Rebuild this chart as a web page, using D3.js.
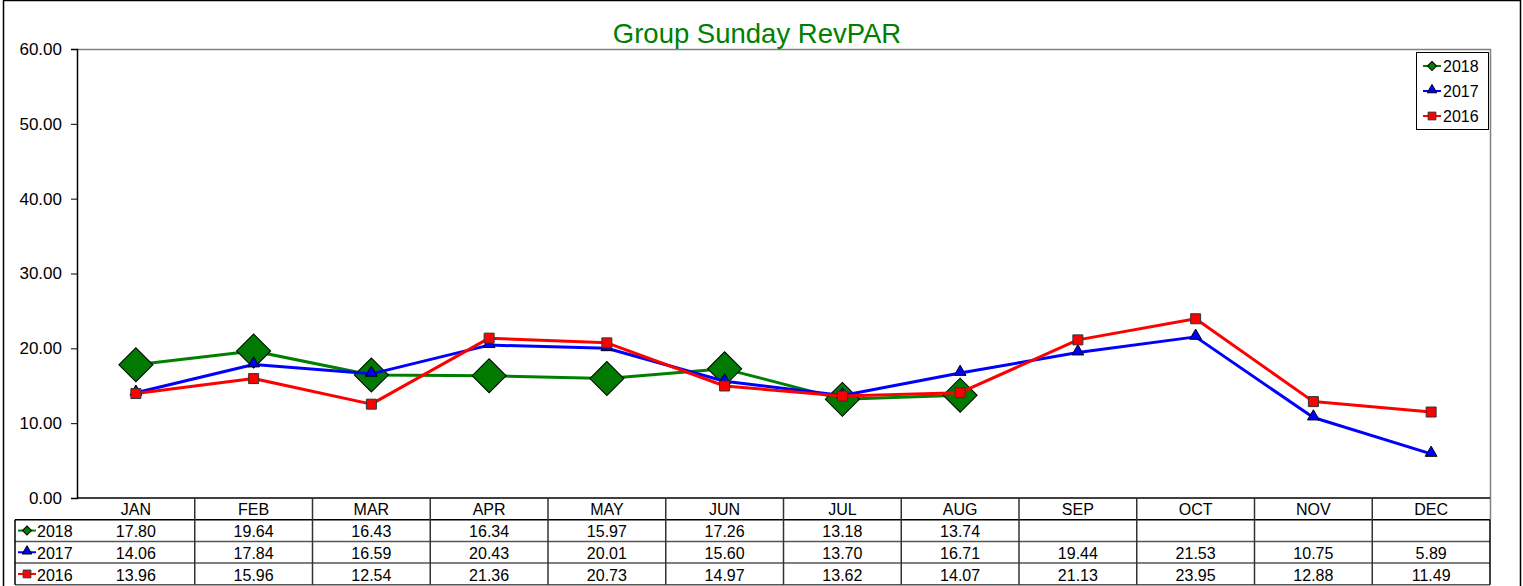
<!DOCTYPE html>
<html>
<head>
<meta charset="utf-8">
<script src="https://cdn.jsdelivr.net/npm/d3@7"></script>
<style>
  html, body { margin: 0; padding: 0; background: #fff; }
  svg { display: block; font-family: "Liberation Sans", Arial, sans-serif; }
</style>
</head>
<body>
<svg id="chart" width="1523" height="586"></svg>
<script>
// Monthly Group Sunday RevPAR by year
const months = ["JAN","FEB","MAR","APR","MAY","JUN","JUL","AUG","SEP","OCT","NOV","DEC"];
const values2018 = [17.80, 19.64, 16.43, 16.34, 15.97, 17.26, 13.18, 13.74, null, null, null, null];
const values2017 = [14.06, 17.84, 16.59, 20.43, 20.01, 15.60, 13.70, 16.71, 19.44, 21.53, 10.75, 5.89];
const values2016 = [13.96, 15.96, 12.54, 21.36, 20.73, 14.97, 13.62, 14.07, 21.13, 23.95, 12.88, 11.49];
const yTicks = [0, 10, 20, 30, 40, 50, 60];

const series = [
  { name: "2018", values: values2018, color: "#008000", fill: "#007a00", shape: "diamond" },
  { name: "2017", values: values2017, color: "#0000ff", fill: "#0000ff", shape: "triangle" },
  { name: "2016", values: values2016, color: "#ff0000", fill: "#ff0000", shape: "square" }
];

const svg = d3.select("#chart");
const plot = { left: 77, right: 1490, top: 49, bottom: 498 };
const rowH = 21.7;
const fmt = d3.format(".2f");

// outer frame
svg.append("path")
  .attr("d", `M3.5,586 V0.5 H1520.5 V586`)
  .attr("fill", "none").attr("stroke", "#000").attr("stroke-width", 1.5);

const x = d3.scaleBand().domain(months).range([plot.left, plot.right]).padding(0);
const y = d3.scaleLinear().domain([0, 60]).range([plot.bottom, plot.top]);
const cx = m => x(m) + x.bandwidth() / 2;

// plot frame (top and right edges)
svg.append("path")
  .attr("d", `M${plot.left},${plot.top + 0.5} H${plot.right + 0.5} V${plot.bottom + rowH}`)
  .attr("fill", "none").attr("stroke", "#808080").attr("stroke-width", 1.5);

// title
svg.append("text")
  .attr("x", 757).attr("y", 43)
  .attr("text-anchor", "middle")
  .attr("font-size", 27.5)
  .attr("fill", "#008000")
  .text("Group Sunday RevPAR");

// y axis
const yAxis = d3.axisLeft(y).tickValues(yTicks).tickFormat(fmt).tickSize(6).tickPadding(9);
const yg = svg.append("g").attr("transform", `translate(${plot.left},0)`).call(yAxis);
yg.select(".domain").attr("stroke", "#000").attr("stroke-width", 1.5);
yg.selectAll(".tick line").attr("stroke", "#000");
yg.selectAll(".tick text").attr("font-size", 17).attr("fill", "#000")
  .attr("font-family", "'Liberation Sans', Arial, sans-serif");

// data table grid
const grid = svg.append("g").attr("stroke", "#000").attr("stroke-width", 1.5);
// x axis / header top
grid.append("line").attr("x1", plot.left).attr("x2", plot.right).attr("y1", plot.bottom).attr("y2", plot.bottom);
for (let r = 1; r <= 4; r++) {
  const yy = plot.bottom + r * rowH;
  grid.append("line")
    .attr("x1", 15).attr("x2", plot.right)
    .attr("y1", yy).attr("y2", yy)
    .attr("stroke", r === 1 ? "#000" : "#555");
}
// column separators
months.forEach((m, i) => {
  if (i === 0) return;
  grid.append("line").attr("x1", x(m)).attr("x2", x(m))
    .attr("y1", plot.bottom).attr("y2", plot.bottom + 4 * rowH).attr("stroke", "#333");
});
grid.append("line").attr("x1", plot.right).attr("x2", plot.right)
  .attr("y1", plot.bottom + rowH).attr("y2", plot.bottom + 4 * rowH);
grid.append("line").attr("x1", 15).attr("x2", 15)
  .attr("y1", plot.bottom + rowH).attr("y2", plot.bottom + 4 * rowH);

// header labels
svg.append("g").selectAll("text").data(months).join("text")
  .attr("x", d => cx(d)).attr("y", plot.bottom + rowH - 5)
  .attr("text-anchor", "middle").attr("font-size", 16).text(d => d);

// marker symbols
function symbolFor(shape, big) {
  if (shape === "diamond") return d3.symbol().type(d3.symbolSquare).size(big ? 580 : 42);
  if (shape === "triangle") return d3.symbol().type(d3.symbolTriangle).size(big ? 60 : 40);
  return d3.symbol().type(d3.symbolSquare).size(big ? 100 : 60);
}
function drawMarker(g, s, px, py, big) {
  g.append("path")
    .attr("d", symbolFor(s.shape, big)())
    .attr("transform", `translate(${px},${py})` + (s.shape === "diamond" ? " rotate(45)" : "") + (s.shape === "triangle" ? " translate(0,-1)" : ""))
    .attr("fill", s.fill)
    .attr("stroke", s.shape === "square" ? "#333" : "#000")
    .attr("stroke-width", 1);
}

// table value rows
series.forEach((s, r) => {
  const rowY = plot.bottom + (r + 1) * rowH;
  const g = svg.append("g");
  g.selectAll("text.v").data(months).join("text")
    .attr("class", "v")
    .attr("x", d => cx(d)).attr("y", rowY + rowH - 4)
    .attr("text-anchor", "middle").attr("font-size", 16)
    .text((d, i) => s.values[i] == null ? "" : fmt(s.values[i]));
  // legend key in row header
  const my = rowY + rowH / 2;
  g.append("line").attr("x1", 18).attr("x2", 36).attr("y1", my).attr("y2", my)
    .attr("stroke", s.color).attr("stroke-width", 2);
  drawMarker(g, s, 27, my, false);
  g.append("text").attr("x", 37).attr("y", rowY + rowH - 4).attr("font-size", 16).text(s.name);
});

// series lines and markers
const line = d3.line()
  .defined(d => d.v != null)
  .x(d => cx(d.m)).y(d => y(d.v));
series.forEach(s => {
  const pts = months.map((m, i) => ({ m, v: s.values[i] }));
  svg.append("path").datum(pts)
    .attr("d", line).attr("fill", "none")
    .attr("stroke", s.color).attr("stroke-width", 3).attr("stroke-linejoin", "round");
  const g = svg.append("g");
  pts.filter(p => p.v != null).forEach(p => drawMarker(g, s, cx(p.m), y(p.v), true));
});

// legend
const lg = svg.append("g");
lg.append("rect").attr("x", 1416.5).attr("y", 52.5).attr("width", 72).attr("height", 77)
  .attr("fill", "#fff").attr("stroke", "#000").attr("stroke-width", 1);
series.forEach((s, i) => {
  const ly = 66 + i * 25;
  lg.append("line").attr("x1", 1423).attr("x2", 1441).attr("y1", ly).attr("y2", ly)
    .attr("stroke", s.color).attr("stroke-width", 2);
  drawMarker(lg, s, 1432, ly, false);
  lg.append("text").attr("x", 1443).attr("y", ly + 6).attr("font-size", 16).text(s.name);
});
</script>
</body>
</html>
